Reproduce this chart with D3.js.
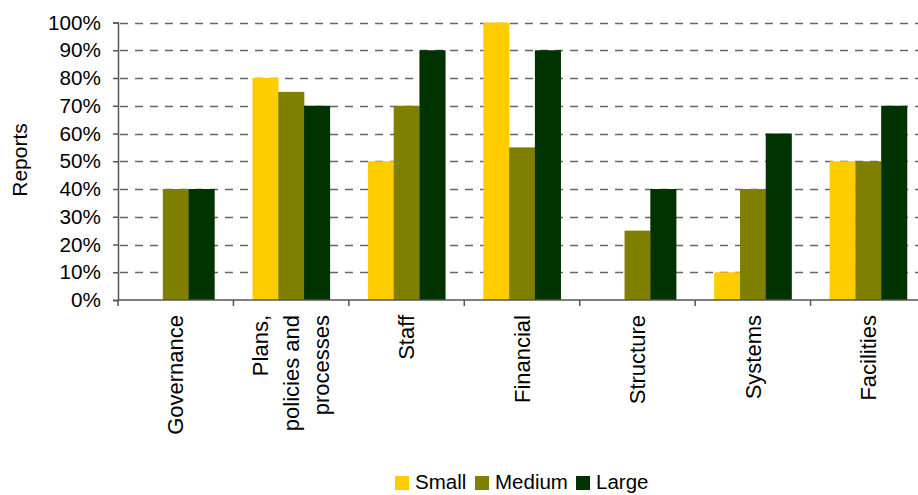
<!DOCTYPE html>
<html>
<head>
<meta charset="utf-8">
<script src="https://cdn.jsdelivr.net/npm/d3@7"></script>
<style>
  html, body { margin: 0; padding: 0; background: #fff; }
  svg { display: block; font-family: "Liberation Sans", Arial, sans-serif; }
</style>
</head>
<body>
<svg id="chart" width="918" height="495"></svg>
<script>
// Share of reports by topic and organisation size
const categories = [
  ["Governance"],
  ["Plans,", "policies and", "processes"],
  ["Staff"],
  ["Financial"],
  ["Structure"],
  ["Systems"],
  ["Facilities"]
];
const seriesNames = ["Small", "Medium", "Large"];
const smallValues  = [0, 80, 50, 100, 0, 10, 50];
const mediumValues = [40, 75, 70, 55, 25, 40, 50];
const largeValues  = [40, 70, 90, 90, 40, 60, 70];
const seriesColors = ["#FFCC00", "#808000", "#003300"];
const yTicks = [0, 10, 20, 30, 40, 50, 60, 70, 80, 90, 100];
const yTickLabels = yTicks.map(v => v + "%");

const series = [smallValues, mediumValues, largeValues];

const svg = d3.select("#chart");
const plotLeft = 118, plotRight = 926, plotTop = 22.5, plotBottom = 300;

const x = d3.scaleBand()
  .domain(d3.range(categories.length))
  .range([plotLeft, plotRight])
  .paddingInner(0.33)
  .paddingOuter(0.165);

const xSub = d3.scaleBand()
  .domain(d3.range(seriesNames.length))
  .range([0, x.bandwidth()]);

const y = d3.scaleLinear().domain([0, 100]).range([plotBottom, plotTop]);

// Dashed gridlines
svg.append("g")
  .selectAll("line")
  .data(yTicks.filter(v => v > 0))
  .join("line")
  .attr("x1", plotLeft)
  .attr("x2", plotRight)
  .attr("y1", d => Math.round(y(d)) + 0.5)
  .attr("y2", d => Math.round(y(d)) + 0.5)
  .attr("stroke", "#666")
  .attr("stroke-width", 1.4)
  .attr("stroke-dasharray", "8,7")
  .attr("stroke-dashoffset", -2);

// Bars
const groups = svg.append("g")
  .selectAll("g")
  .data(series)
  .join("g")
  .attr("fill", (d, i) => seriesColors[i]);

groups.selectAll("rect")
  .data((d, si) => d.map((v, ci) => ({ v, ci, si })))
  .join("rect")
  .attr("x", d => x(d.ci) + xSub(d.si))
  .attr("width", xSub.bandwidth() + 0.3)
  .attr("y", d => y(d.v))
  .attr("height", d => y(0) - y(d.v));

// Y axis
const yAxis = d3.axisLeft(y)
  .tickValues(yTicks)
  .tickFormat((d, i) => yTickLabels[i])
  .tickSize(5)
  .tickPadding(12);

const yg = svg.append("g")
  .attr("transform", `translate(${plotLeft},0)`)
  .call(yAxis);
yg.select(".domain").attr("stroke", "#555").attr("stroke-width", 1.5);
yg.selectAll(".tick line").attr("stroke", "#555").attr("stroke-width", 1.5);
yg.selectAll(".tick text")
  .attr("font-size", 20.7)
  .attr("fill", "#000")
  .attr("font-family", "Liberation Sans, Arial, sans-serif");

// X axis with boundary ticks between categories
const xg = svg.append("g")
  .attr("transform", `translate(0,${plotBottom})`);
xg.append("line")
  .attr("x1", plotLeft).attr("x2", plotRight)
  .attr("y1", 0).attr("y2", 0)
  .attr("stroke", "#555").attr("stroke-width", 1.5);
const step = x.step();
xg.selectAll("line.tk")
  .data(d3.range(categories.length + 1))
  .join("line")
  .attr("class", "tk")
  .attr("x1", i => plotLeft + i * step)
  .attr("x2", i => plotLeft + i * step)
  .attr("y1", 0).attr("y2", 6)
  .attr("stroke", "#555").attr("stroke-width", 1.5);

// Rotated category labels
const lineGap = 30.5;
const lbl = svg.append("g")
  .selectAll("text")
  .data(categories)
  .join("text")
  .attr("transform", (d, i) => `translate(${x(i) + x.bandwidth() / 2},${plotBottom + 15}) rotate(-90)`)
  .attr("text-anchor", "end")
  .attr("font-size", 22)
  .attr("fill", "#000");
lbl.selectAll("tspan")
  .data(d => d.map((t, k) => ({ t, k, n: d.length })))
  .join("tspan")
  .attr("x", 0)
  .attr("y", d => (d.k - (d.n - 1) / 2) * lineGap)
  .attr("dy", "0.35em")
  .text(d => d.t);

// Y axis title
svg.append("text")
  .attr("transform", `translate(27,160) rotate(-90)`)
  .attr("text-anchor", "middle")
  .attr("font-size", 21)
  .attr("fill", "#000")
  .text("Reports");

// Legend
const legendItems = [
  { name: seriesNames[0], x: 395 },
  { name: seriesNames[1], x: 475 },
  { name: seriesNames[2], x: 576 }
];
const lg = svg.append("g")
  .selectAll("g")
  .data(legendItems)
  .join("g")
  .attr("transform", d => `translate(${d.x},476)`);
lg.append("rect")
  .attr("width", 14).attr("height", 14)
  .attr("fill", (d, i) => seriesColors[i]);
lg.append("text")
  .attr("x", 20)
  .attr("y", 13)
  .attr("font-size", 20.5)
  .attr("fill", "#000")
  .text(d => d.name);
</script>
</body>
</html>
